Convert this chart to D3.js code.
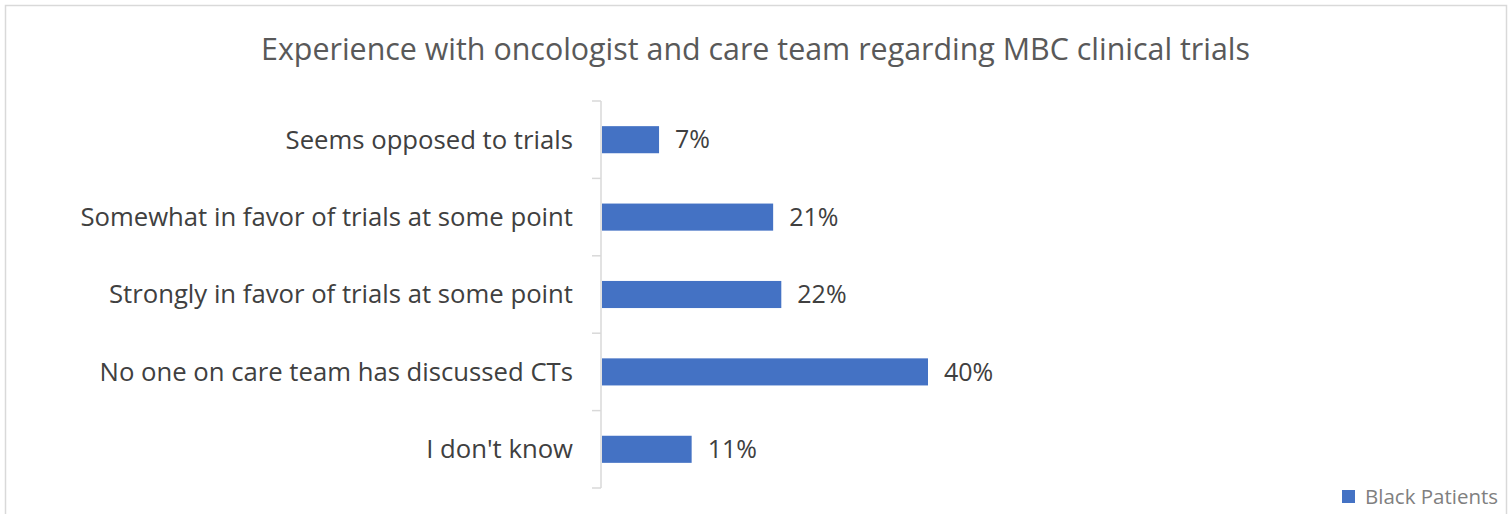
<!DOCTYPE html>
<html><head><meta charset="utf-8">
<script src="https://cdn.jsdelivr.net/npm/d3@7/dist/d3.min.js"></script>
<style>
html,body{margin:0;padding:0;background:#fff;}
svg{display:block;font-family:"Open Sans",sans-serif;}
</style></head>
<body>
<svg id="chart" width="1512" height="514"></svg>
<script>
const title = "Experience with oncologist and care team regarding MBC clinical trials";
const categories = ["Seems opposed to trials","Somewhat in favor of trials at some point","Strongly in favor of trials at some point","No one on care team has discussed CTs","I don't know"];
const values = [7, 21, 22, 40, 11];
const seriesName = "Black Patients";

const svg = d3.select("#chart");
const color = "#4472c4";

// frame
svg.append("rect").attr("x",5.5).attr("y",5.5).attr("width",1501).attr("height",520)
  .attr("fill","none").attr("stroke","#d9d9d9").attr("stroke-width",1.5);

svg.append("text").attr("x",755.5).attr("y",60).attr("text-anchor","middle")
  .attr("font-size",30.4).attr("fill","#595959").text(title);

const y = d3.scaleBand().domain(categories).range([101,488]).paddingInner(0.65).paddingOuter(0.325);
const x = d3.scaleLinear().domain([0,50]).range([602,602+407.5]);

svg.append("line").attr("x1",601).attr("x2",601).attr("y1",101).attr("y2",488).attr("stroke","#d9d9d9").attr("stroke-width",1.5);
// category boundary ticks
const bounds = categories.map(c => y(c) - y.step()*y.paddingInner()/2);
bounds.push(488);
bounds[0] = 101;
svg.selectAll(".tk").data(bounds).join("line").attr("class","tk")
  .attr("x1",592).attr("x2",601).attr("y1",d=>d).attr("y2",d=>d).attr("stroke","#d9d9d9").attr("stroke-width",1.5);

// labels
svg.selectAll(".cat").data(categories).join("text").attr("class","cat")
  .attr("x",573).attr("y",d=>y(d)+y.bandwidth()/2).attr("dy","0.35em")
  .attr("text-anchor","end").attr("font-size",25.7).attr("fill","#404040").text(d=>d);

// bars
svg.selectAll(".bar").data(values).join("rect").attr("class","bar")
  .attr("x",x(0)).attr("y",(d,i)=>y(categories[i])).attr("height",y.bandwidth())
  .attr("width",d=>x(d)-x(0)).attr("fill",color);

svg.selectAll(".val").data(values).join("text").attr("class","val")
  .attr("x",d=>x(d)+16).attr("y",(d,i)=>y(categories[i])+y.bandwidth()/2).attr("dy","0.35em")
  .attr("font-size",25).attr("fill","#404040").text(d=>d+"%");

// legend
svg.append("rect").attr("x",1342).attr("y",490).attr("width",13).attr("height",13).attr("fill",color);
svg.append("text").attr("x",1365).attr("y",497).attr("dy","0.35em").attr("font-size",20.5).attr("fill","#808080").text(seriesName);
</script>
</body></html>
